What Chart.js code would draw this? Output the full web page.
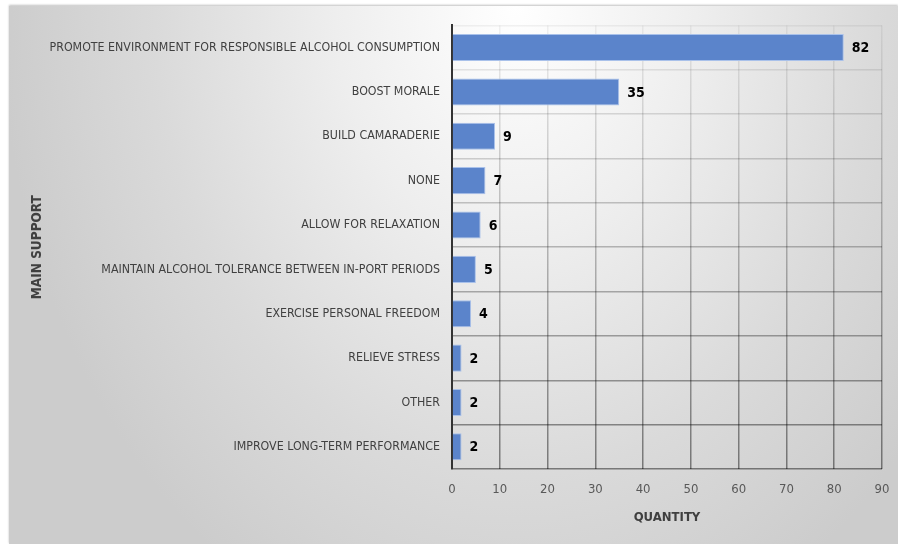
<!DOCTYPE html>
<html>
<head>
<meta charset="UTF-8" />
<script src="https://cdn.jsdelivr.net/npm/chart.js"></script>
<style>
  body, html {
    margin: 0;
    padding: 0;
    background: #ffffff;
  }
  #frame {
    position: absolute;
    left: 9px;
    top: 6px;
    width: 889px;
    height: 538px;
    background: radial-gradient(ellipse 58% 125% at 57% 0%, #ffffff 0%, #eeeeee 35%, #dadada 70%, #cccccc 100%);
    box-shadow: 0 -1px 2px rgba(0,0,0,0.25);
  }
  canvas {
    display: block;
  }
</style>
</head>
<body>
<div id="frame"><canvas id="myChart" width="889" height="538"></canvas></div>
<script>
  const categories = [
    'PROMOTE ENVIRONMENT FOR RESPONSIBLE ALCOHOL CONSUMPTION',
    'BOOST MORALE',
    'BUILD CAMARADERIE',
    'NONE',
    'ALLOW FOR RELAXATION',
    'MAINTAIN ALCOHOL TOLERANCE BETWEEN IN-PORT PERIODS',
    'EXERCISE PERSONAL FREEDOM',
    'RELIEVE STRESS',
    'OTHER',
    'IMPROVE LONG-TERM PERFORMANCE'
  ];
  const quantities = [82, 35, 9, 7, 6, 5, 4, 2, 2, 2];
  const xTicks = [0, 10, 20, 30, 40, 50, 60, 70, 80, 90];

  const labelFont = "'DejaVu Sans Condensed', 'Liberation Sans Narrow', sans-serif";

  // grid lines fade out toward the top of the plot
  function gridColor(context) {
    const chart = context.chart;
    const area = chart.chartArea;
    if (!area) return 'rgba(0,0,0,0.3)';
    const g = chart.ctx.createLinearGradient(0, area.top, 0, area.bottom);
    g.addColorStop(0, 'rgba(0,0,0,0.05)');
    g.addColorStop(0.3, 'rgba(0,0,0,0.17)');
    g.addColorStop(1, 'rgba(0,0,0,0.45)');
    return g;
  }

  const valueLabels = {
    id: 'valueLabels',
    afterDatasetsDraw(chart) {
      const ctx = chart.ctx;
      const meta = chart.getDatasetMeta(0);
      ctx.save();
      ctx.font = "bold 14px " + labelFont;
      ctx.fillStyle = '#000000';
      ctx.textAlign = 'left';
      ctx.textBaseline = 'middle';
      meta.data.forEach((bar, i) => {
        ctx.fillText(String(quantities[i]), bar.x + 8, bar.y + 1);
      });
      ctx.restore();
    }
  };

  const ctx = document.getElementById('myChart').getContext('2d');
  new Chart(ctx, {
    type: 'bar',
    data: {
      labels: categories,
      datasets: [{
        data: quantities,
        backgroundColor: '#5b84cb',
        borderColor: '#a9c1ea',
        borderWidth: 1,
        borderSkipped: 'left',
        categoryPercentage: 1,
        barPercentage: 0.61
      }]
    },
    options: {
      indexAxis: 'y',
      responsive: false,
      animation: false,
      layout: { padding: { top: 19, right: 16, left: 0, bottom: 0 } },
      plugins: {
        legend: { display: false },
        tooltip: { enabled: false }
      },
      scales: {
        x: {
          min: 0,
          max: 90,
          afterBuildTicks(scale) {
            scale.ticks = xTicks.map(v => ({ value: v }));
          },
          afterFit(scale) {
            scale.height = 75;
            scale.paddingLeft = 0;
            scale.paddingRight = 0;
          },
          grid: { color: gridColor, lineWidth: 1.5, drawTicks: false },
          border: { display: false },
          ticks: {
            padding: 13,
            color: '#595959',
            font: { family: labelFont, size: 13 }
          },
          title: {
            display: true,
            text: 'QUANTITY',
            color: '#404040',
            padding: { top: 6, bottom: 19 },
            font: { family: labelFont, size: 13, weight: 'bold' }
          }
        },
        y: {
          afterFit(scale) { scale.width = 443; },
          grid: { color: gridColor, lineWidth: 1.5, drawTicks: false, offset: true },
          border: { display: true, color: '#333333', width: 2 },
          ticks: {
            padding: 12,
            color: '#404040',
            autoSkip: false,
            font: { family: labelFont, size: 12.3 }
          },
          title: {
            display: true,
            text: 'MAIN SUPPORT',
            color: '#404040',
            padding: { top: 20, bottom: 0 },
            font: { family: labelFont, size: 13.5, weight: 'bold' }
          }
        }
      }
    },
    plugins: [valueLabels]
  });
</script>
</body>
</html>
